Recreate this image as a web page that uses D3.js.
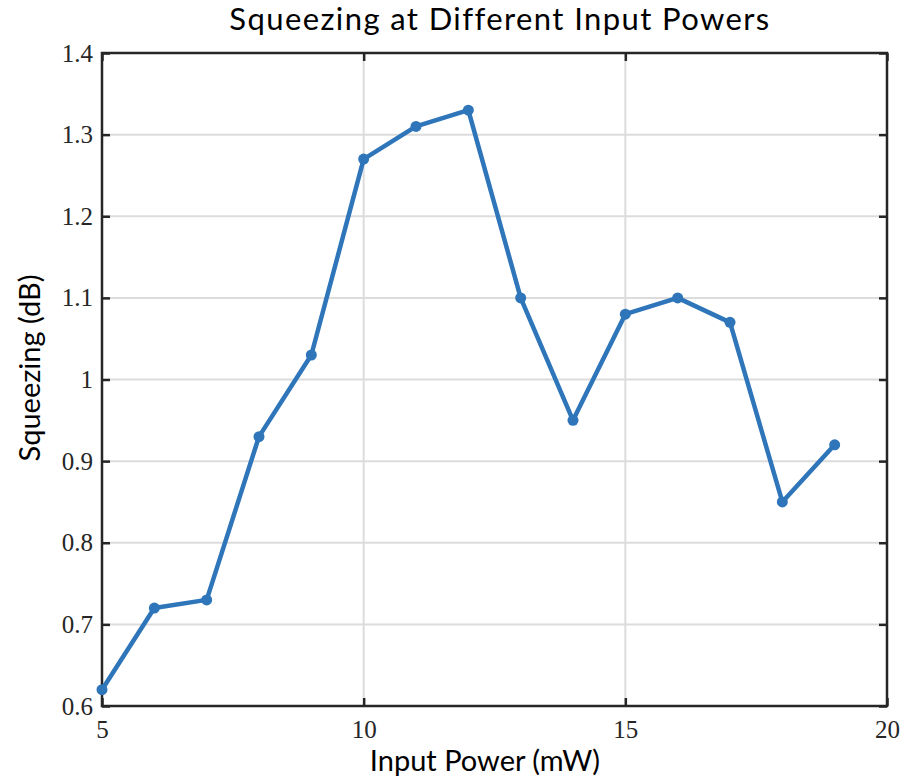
<!DOCTYPE html>
<html>
<head>
<meta charset="utf-8">
<script src="https://d3js.org/d3.v7.min.js"></script>
<style>
  body { margin: 0; background: #fff; }
  svg { display: block; }
</style>
</head>
<body>
<svg id="chart" width="904" height="780"></svg>
<script>
// Measured squeezing versus pump power
const powers = [5, 6, 7, 8, 9, 10, 11, 12, 13, 14, 15, 16, 17, 18, 19];
const squeezing = [0.62, 0.72, 0.73, 0.93, 1.03, 1.27, 1.31, 1.33, 1.10, 0.95, 1.08, 1.10, 1.07, 0.85, 0.92];
const xTicks = [5, 10, 15, 20];
const yTicks = [0.6, 0.7, 0.8, 0.9, 1.0, 1.1, 1.2, 1.3, 1.4];
const yTickLabels = ["0.6", "0.7", "0.8", "0.9", "1", "1.1", "1.2", "1.3", "1.4"];

const svg = d3.select("#chart");
const plotLeft = 102, plotRight = 887, plotTop = 53, plotBottom = 706;

const x = d3.scaleLinear().domain([5, 20]).range([plotLeft, plotRight]);
const y = d3.scaleLinear().domain([0.6, 1.4]).range([plotBottom, plotTop]);

const sansFont = "Lato, 'Open Sans', sans-serif";
const serifFont = "'Liberation Serif', 'DejaVu Serif', serif";

// grid
svg.append("g").selectAll("line").data(xTicks.slice(1, -1)).join("line")
  .attr("x1", d => x(d)).attr("x2", d => x(d))
  .attr("y1", plotTop).attr("y2", plotBottom)
  .attr("stroke", "#dcdcdc").attr("stroke-width", 2);
svg.append("g").selectAll("line").data(yTicks.slice(1, -1)).join("line")
  .attr("x1", plotLeft).attr("x2", plotRight)
  .attr("y1", d => y(d)).attr("y2", d => y(d))
  .attr("stroke", "#dcdcdc").attr("stroke-width", 2);

// axes with inward ticks, mirrored on top/right
const tickLen = 8;
const axisColor = "#262626";
const gx = svg.append("g").attr("transform", `translate(0,${plotBottom})`)
  .call(d3.axisBottom(x).tickValues(xTicks).tickSizeInner(-tickLen).tickSizeOuter(0).tickPadding(14).tickFormat(d3.format("d")));
const gxTop = svg.append("g").attr("transform", `translate(0,${plotTop})`)
  .call(d3.axisTop(x).tickValues(xTicks).tickSizeInner(-tickLen).tickSizeOuter(0).tickFormat(""));
const gy = svg.append("g").attr("transform", `translate(${plotLeft},0)`)
  .call(d3.axisLeft(y).tickValues(yTicks).tickSizeInner(-tickLen).tickSizeOuter(0).tickPadding(9)
    .tickFormat((d, i) => yTickLabels[i]));
const gyRight = svg.append("g").attr("transform", `translate(${plotRight},0)`)
  .call(d3.axisRight(y).tickValues(yTicks).tickSizeInner(-tickLen).tickSizeOuter(0).tickFormat(""));

[gx, gxTop, gy, gyRight].forEach(g => {
  g.select(".domain").remove();
  g.selectAll(".tick line").attr("stroke", axisColor).attr("stroke-width", 2.5);
  g.selectAll(".tick text").attr("fill", "#262626").style("font-family", serifFont).style("font-size", "25px");
});

// frame
svg.append("rect")
  .attr("x", plotLeft).attr("y", plotTop)
  .attr("width", plotRight - plotLeft).attr("height", plotBottom - plotTop)
  .attr("fill", "none").attr("stroke", axisColor).attr("stroke-width", 2.5);

// data line and markers
const pts = powers.map((p, i) => [p, squeezing[i]]);
svg.append("path")
  .datum(pts)
  .attr("fill", "none")
  .attr("stroke", "#2e75b9")
  .attr("stroke-width", 4.5)
  .attr("stroke-linejoin", "round")
  .attr("d", d3.line().x(d => x(d[0])).y(d => y(d[1])));
svg.append("g").selectAll("circle").data(pts).join("circle")
  .attr("cx", d => x(d[0])).attr("cy", d => y(d[1]))
  .attr("r", 5.5).attr("fill", "#2e75b9");

// titles
svg.append("text")
  .attr("x", 500).attr("y", 30)
  .attr("text-anchor", "middle")
  .style("font-family", sansFont).style("font-size", "31px").style("letter-spacing", "1.4px").attr("fill", "#000")
  .text("Squeezing at Different Input Powers");
svg.append("text")
  .attr("x", 485).attr("y", 771)
  .attr("text-anchor", "middle")
  .style("font-family", sansFont).style("font-size", "29px").attr("fill", "#000")
  .text("Input Power (mW)");
svg.append("text")
  .attr("transform", "translate(40,368) rotate(-90)")
  .attr("text-anchor", "middle")
  .style("font-family", sansFont).style("font-size", "29px").attr("fill", "#000")
  .text("Squeezing (dB)");
</script>
</body>
</html>
